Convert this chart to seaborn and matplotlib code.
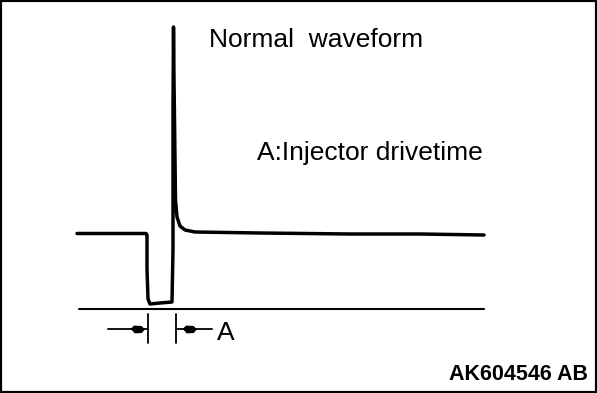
import numpy as np
import pandas as pd
import matplotlib
matplotlib.use("Agg")
import matplotlib.pyplot as plt
import seaborn as sns

# Injector waveform (time units, volts relative to zero line)
wave_t = [77, 110, 146, 147, 147, 148, 150, 160, 172, 173, 173, 173.5, 174, 175,
          175.5, 177, 180, 185, 195, 260, 350, 420, 484]
wave_v = [75.5, 75.5, 75.5, 74, 40, 10, 5, 6, 7, 60, 200, 282, 230, 150,
          109, 92, 83, 79, 77, 76, 75, 75, 74]

zero_t = [79, 484]
zero_v = [0, 0]

# "A" drive time markers
tick_t = [148, 176]
tick_v = [-5, -34]
arrow_left_t = [108, 147]
arrow_right_t = [177, 212]
arrow_v = -20
dot_t = [137, 189]

title_text = "Normal  waveform"
note_text = "A:Injector drivetime"
label_a = "A"
code_text = "AK604546 AB"

sns.set_style("white")
plt.rcParams["font.family"] = ["Liberation Sans", "DejaVu Sans"]
plt.rcParams["text.color"] = "black"

fig = plt.figure(figsize=(5.97, 3.93), dpi=100)
ax = fig.add_axes([0, 0, 1, 1])

df = pd.DataFrame({"t": wave_t, "v": wave_v})
sns.lineplot(data=df, x="t", y="v", sort=False, estimator=None,
             color="black", linewidth=2.5, ax=ax)
sns.lineplot(x=zero_t, y=zero_v, color="black", linewidth=1.5, ax=ax)

# markers under the zero line
for t in tick_t:
    ax.plot([t, t], tick_v, color="black", linewidth=1.3)
ax.plot(arrow_left_t, [arrow_v, arrow_v], color="black", linewidth=1.3)
ax.plot(arrow_right_t, [arrow_v, arrow_v], color="black", linewidth=1.3)
ax.scatter(dot_t, [arrow_v, arrow_v], marker=(
    [(-1, 0), (-0.5, 0.5), (0.6, 0.45), (1, 0), (0.6, -0.45), (-0.5, -0.5)]),
    s=85, color="black", zorder=3)

fs = 19
ax.text(209, 262, title_text, fontsize=fs, va="baseline", ha="left", color="black")
ax.text(257, 149, note_text, fontsize=fs, va="baseline", ha="left", color="black")
ax.text(217, -31, label_a, fontsize=fs, va="baseline", ha="left", color="black")
ax.text(588, -71, code_text, fontsize=15.5, fontweight="bold", va="baseline",
        ha="right", color="black")

ax.set_xlim(0, 597)
ax.set_ylim(-84, 309)
ax.set_xticks([])
ax.set_yticks([])
ax.set_xlabel("")
ax.set_ylabel("")
for s in ax.spines.values():
    s.set_visible(True)
    s.set_color("black")
    s.set_linewidth(3)

fig.savefig("out.png", dpi=100)
